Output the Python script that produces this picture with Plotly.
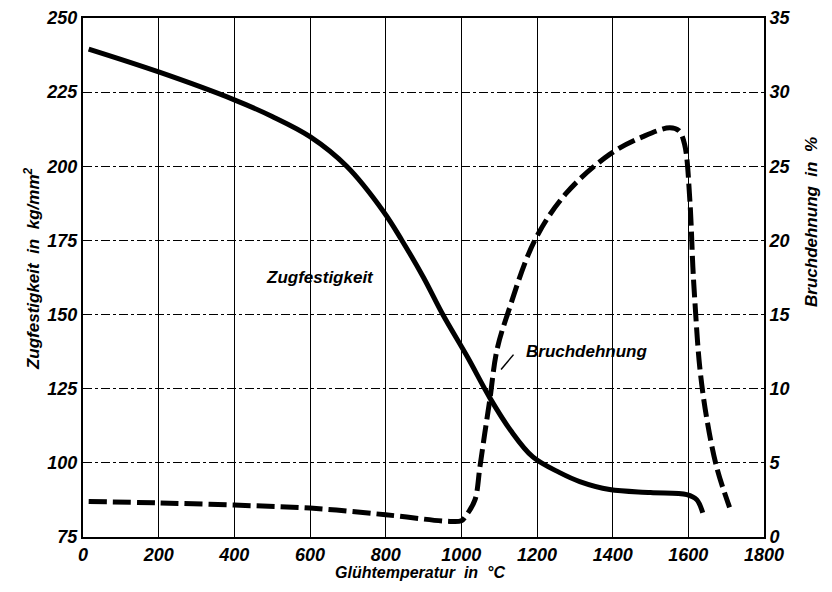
import plotly.graph_objects as go

# Zugfestigkeit (kg/mm2) over Glühtemperatur (°C)
temp_zug = [15, 200, 400, 500, 600, 697, 795, 843, 900, 951, 1017, 1075, 1130,
            1189, 1260, 1313, 1392, 1500, 1596, 1622, 1638]
zugfestigkeit = [239.5, 231.8, 222.4, 216.8, 210, 200, 184.6, 175, 162.5, 150,
                 135.5, 122, 111, 102, 96.7, 93.7, 91, 90, 89.3, 87.6, 83.2]

# Bruchdehnung (%) over Glühtemperatur (°C)
temp_bruch = [15, 200, 400, 600, 800, 970, 1000, 1014, 1036, 1049, 1062, 1075,
              1094, 1123, 1194, 1278, 1392, 1480, 1551, 1575, 1590, 1604, 1612,
              1617, 1630, 1648, 1675, 1709]
bruchdehnung = [2.4, 2.3, 2.15, 1.95, 1.5, 1.05, 1.1, 1.5, 2.5, 4.7, 7.0, 9.2,
                12.6, 15.1, 20, 23.2, 25.8, 27, 27.6, 27.4, 26.5, 22.7, 18.2,
                16, 11.5, 8.1, 4.7, 2.0]

x_ticks = [0, 200, 400, 600, 800, 1000, 1200, 1400, 1600, 1800]
y_left_ticks = [75, 100, 125, 150, 175, 200, 225, 250]
y_right_ticks = [0, 5, 10, 15, 20, 25, 30, 35]

FONT = "Liberation Sans Narrow, Arial Narrow, Liberation Sans, Arial"
TICKFONT = dict(family=FONT, size=18, color="black", weight="bold", style="italic")
LABELFONT = dict(family=FONT, size=17, color="black", weight="bold", style="italic")

fig = go.Figure()

fig.add_trace(
    go.Scatter(
        x=temp_zug,
        y=zugfestigkeit,
        mode="lines",
        line=dict(color="black", width=5, shape="spline", smoothing=1),
        yaxis="y",
        hoverinfo="skip",
    )
)
fig.add_trace(
    go.Scatter(
        x=temp_bruch,
        y=bruchdehnung,
        mode="lines",
        line=dict(color="black", width=5, shape="spline", smoothing=1,
                  dash="18px,6px"),
        yaxis="y2",
        hoverinfo="skip",
    )
)

# curve labels
fig.add_annotation(x=626, y=162.4, xref="x", yref="y", text="Zugfestigkeit",
                   showarrow=False, font=LABELFONT)
fig.add_annotation(x=1332, y=12.5, xref="x", yref="y2", text="Bruchdehnung",
                   showarrow=False, font=LABELFONT)
# little leader line to the dashed curve
fig.add_shape(type="line", xref="x", yref="y2", x0=1105, y0=11.3, x1=1138, y1=12.3,
              line=dict(color="black", width=1.5))

# axis titles
fig.add_annotation(x=-0.075, y=0.518, xref="paper", yref="paper",
                   xanchor="center", yanchor="middle",
                   text="Zugfestigkeit  in  kg/mm<sup>2</sup>", textangle=-90,
                   showarrow=False, font=LABELFONT)
fig.add_annotation(x=1.0705, y=0.607, xref="paper", yref="paper",
                   xanchor="center", yanchor="middle",
                   text="Bruchdehnung  in  %", textangle=-90,
                   showarrow=False, font=LABELFONT)
fig.add_annotation(x=0.495, y=-0.069, xref="paper", yref="paper",
                   xanchor="center", yanchor="middle",
                   text="Glühtemperatur  in  °C",
                   showarrow=False, font=dict(LABELFONT, size=16))

# the page body adds an 8px margin, so the figure is 16px smaller
fig.update_layout(
    width=816,
    height=576,
    margin=dict(l=75, r=60, t=10, b=47, autoexpand=False),
    paper_bgcolor="white",
    plot_bgcolor="white",
    showlegend=False,
    xaxis=dict(
        range=[0, 1800],
        tickvals=x_ticks,
        ticks="",
        tickfont=TICKFONT,
        showgrid=True,
        gridcolor="black",
        gridwidth=1,
        showline=True,
        linecolor="black",
        linewidth=2,
        mirror=True,
        zeroline=False,
        automargin=False,
    ),
    yaxis=dict(
        range=[75, 250],
        tickvals=y_left_ticks,
        ticks="",
        tickfont=TICKFONT,
        showgrid=True,
        gridcolor="black",
        gridwidth=1,
        griddash="dashdot",
        showline=True,
        linecolor="black",
        linewidth=2,
        zeroline=False,
        automargin=False,
    ),
    yaxis2=dict(
        range=[0, 35],
        tickvals=y_right_ticks,
        ticks="",
        tickfont=TICKFONT,
        overlaying="y",
        side="right",
        showgrid=False,
        showline=True,
        linecolor="black",
        linewidth=2,
        zeroline=False,
        automargin=False,
    ),
)

fig.write_html("out.html")
